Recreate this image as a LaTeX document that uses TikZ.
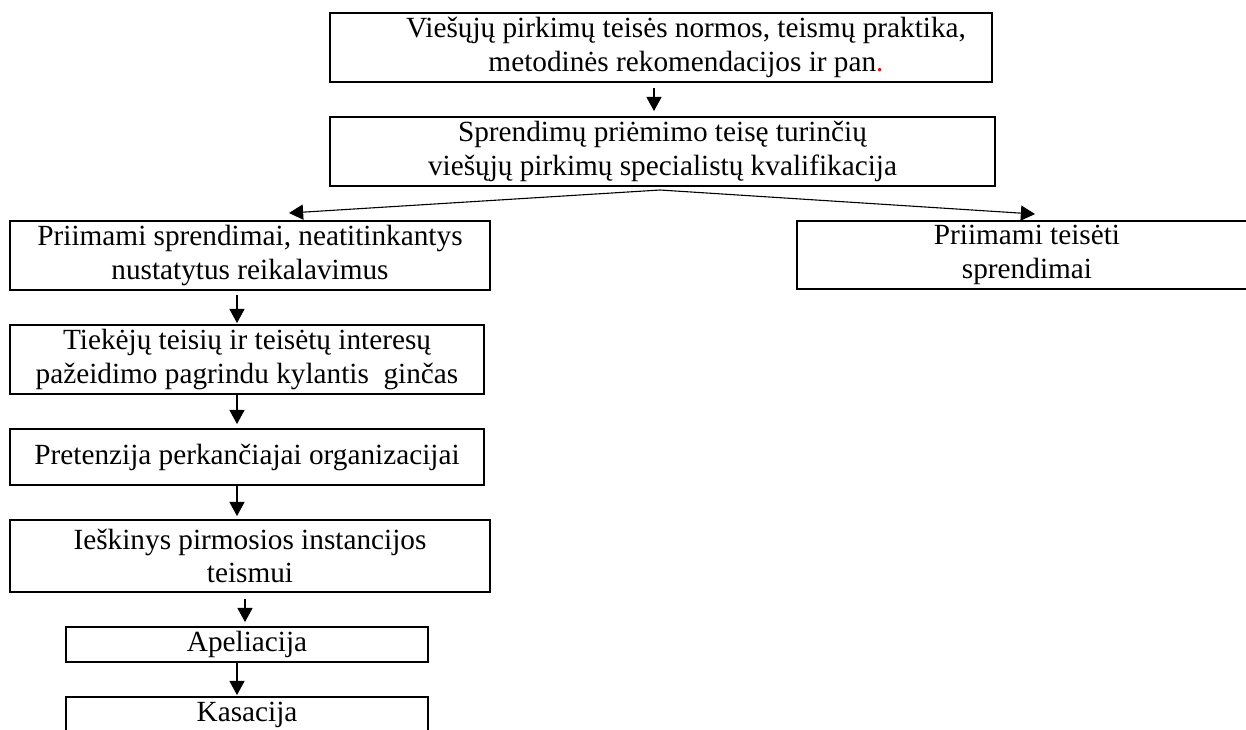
\documentclass[tikz,border=0pt]{standalone}
\usepackage{fontspec}
\setmainfont{Liberation Serif}
\usetikzlibrary{arrows.meta}
\newcommand\pxu{0.41pt}
\begin{document}
\begin{tikzpicture}[x=0.41pt, y=-0.41pt, >={Triangle[width=6.2pt,length=5.8pt]},
    txt/.style={align=center, font=\fontsize{12pt}{13.8pt}\selectfont},
    box/.style={txt, draw, line width=0.8pt, inner sep=1pt},
    flow/.style={->, line width=0.45pt}]
  \path[use as bounding box, clip] (0,0) rectangle (1246,729);
  \node[box, minimum width=662*\pxu, minimum height=69*\pxu,
    label={[txt, xshift=25*\pxu]center:{Viešųjų pirkimų teisės normos, teismų praktika,\\metodinės rekomendacijos ir pan{\color{red}.}}}] (top) at (661,47.5) {};
  \node[box, minimum width=665*\pxu, minimum height=69*\pxu] (spec) at (662.5,151.5)
    {Sprendimų priėmimo teisę turinčių\\viešųjų pirkimų specialistų kvalifikacija};
  \node[box, minimum width=480*\pxu, minimum height=69*\pxu] (bad) at (250,255.5)
    {Priimami sprendimai, neatitinkantys\\nustatytus reikalavimus};
  \node[box, minimum width=460*\pxu, minimum height=68*\pxu] (good) at (1027,255)
    {Priimami teisėti\\sprendimai};
  \node[box, minimum width=474*\pxu, minimum height=69*\pxu] (dispute) at (247,359.5)
    {Tiekėjų teisių ir teisėtų interesų\\pažeidimo pagrindu kylantis~ ginčas};
  \node[box, minimum width=474*\pxu, minimum height=56*\pxu] (claim) at (247,457)
    {Pretenzija perkančiajai organizacijai};
  \node[box, minimum width=480*\pxu, minimum height=72*\pxu] (suit) at (250,556)
    {Ieškinys pirmosios instancijos\\teismui};
  \node[box, minimum width=362*\pxu, minimum height=35*\pxu] (appeal) at (247,644.5)
    {Apeliacija};
  \node[box, minimum width=362*\pxu, minimum height=35*\pxu] (cassation) at (247,714.5)
    {Kasacija};
  \coordinate (fork) at (660,190);
  \draw[flow, shorten <=5*\pxu, shorten >=5*\pxu] ([xshift=-7*\pxu]top.south) -- ([xshift=-8.5*\pxu]spec.north);
  \draw[flow] (fork) -- ([shift={(39,-7)}]bad.north);
  \draw[flow] (fork) -- ([shift={(8,-6)}]good.north);
  \draw[flow, shorten <=4*\pxu, shorten >=1*\pxu] ([xshift=-13*\pxu]bad.south) -- ([xshift=-10*\pxu]dispute.north);
  \draw[flow, shorten >=4*\pxu] ([xshift=-10*\pxu]dispute.south) -- ([xshift=-10*\pxu]claim.north);
  \draw[flow, shorten >=3*\pxu] ([xshift=-10*\pxu]claim.south) -- ([xshift=-13*\pxu]suit.north);
  \draw[flow, shorten <=6*\pxu, shorten >=4*\pxu] ([xshift=-5*\pxu]suit.south) -- ([xshift=-2*\pxu]appeal.north);
  \draw[flow, shorten >=1*\pxu] ([xshift=-10*\pxu]appeal.south) -- ([xshift=-10*\pxu]cassation.north);
\end{tikzpicture}
\end{document}
